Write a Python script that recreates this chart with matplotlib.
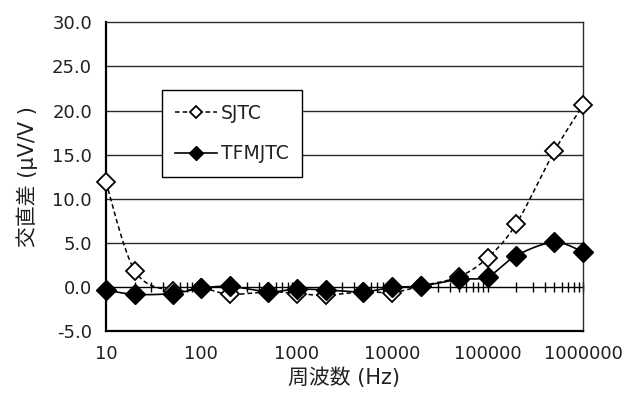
import numpy as np
import matplotlib
matplotlib.use("Agg")
import matplotlib.pyplot as plt
from matplotlib.lines import Line2D

plt.rcParams['font.family'] = ['DejaVu Sans', 'Noto Sans CJK JP']

freq = [10, 20, 50, 100, 200, 500, 1000, 2000, 5000, 10000, 20000,
        50000, 100000, 200000, 500000, 1000000]
sjtc = [11.9, 1.9, -0.4, -0.1, -0.8, -0.5, -0.7, -0.9, -0.5, -0.6, 0.15,
        1.2, 3.35, 7.2, 15.4, 20.6]
tfmjtc = [-0.3, -0.8, -0.7, -0.1, 0.1, -0.5, -0.2, -0.3, -0.5, 0.0, 0.15,
          0.9, 1.2, 3.6, 5.1, 4.0]
series_names = ["SJTC", "TFMJTC"]
xticks = [10, 100, 1000, 10000, 100000, 1000000]
xtick_labels = ["10", "100", "1000", "10000", "100000", "1000000"]
yticks = [-5, 0, 5, 10, 15, 20, 25, 30]
ytick_labels = ["-5.0", "0.0", "5.0", "10.0", "15.0", "20.0", "25.0", "30.0"]
xlabel = "周波数 (Hz)"
ylabel = "交直差 (µV/V )"


def smooth(xs, ys, n=20):
    # Excel-like smoothed line: Catmull-Rom in screen-like (log x, y) space
    u = (np.log10(xs) - 1) / 5 * 477.0
    v = np.asarray(ys, float) * 8.83
    P = np.column_stack([u, v])
    P = np.vstack([P[0], P, P[-1]])
    out = []
    t = np.linspace(0, 1, n)[:, None]
    for i in range(1, len(P) - 2):
        p0, p1, p2, p3 = P[i - 1], P[i], P[i + 1], P[i + 2]
        c1 = p1 + (p2 - p0) / 6
        c2 = p2 - (p3 - p1) / 6
        seg = ((1 - t) ** 3) * p1 + 3 * ((1 - t) ** 2) * t * c1 + 3 * (1 - t) * t ** 2 * c2 + t ** 3 * p2
        out.append(seg if i == 1 else seg[1:])
    S = np.vstack(out)
    return 10 ** (S[:, 0] / 477.0 * 5 + 1), S[:, 1] / 8.83


fig = plt.figure(figsize=(6.38, 3.99), dpi=100)
ax = fig.add_axes([0.1661, 0.1692, 0.7477, 0.7749])
ax.set_xscale('log')
ax.set_xlim(10, 1000000)
ax.set_ylim(-5, 30)

gc = '#2a2a2a'
tc = '#231f20'
for yv in yticks[2:-1]:
    ax.axhline(yv, color=gc, lw=1.0, zorder=1)

# zero axis line with minor ticks
sec = ax.secondary_xaxis(5 / 35)
sec.spines['bottom'].set_color('black')
sec.spines['bottom'].set_linewidth(1.0)
sec.set_xticks(xticks)
sec.tick_params(which='both', direction='inout', length=7, width=1.0,
                labelbottom=False, color='black')
sec.xaxis.set_minor_locator(matplotlib.ticker.LogLocator(base=10, subs=np.arange(2, 10)))
sec.xaxis.set_minor_formatter(matplotlib.ticker.NullFormatter())

sx, sy = smooth(freq, sjtc)
tx, ty = smooth(freq, tfmjtc)
ax.plot(sx, sy, color='black', lw=1.1, ls=(0, (3, 2)), zorder=3)
ax.plot(tx, ty, color='black', lw=1.2, zorder=3)
ax.plot(freq, sjtc, ls='none', marker='D', ms=9.5, mfc='white', mec='black',
        mew=1.3, zorder=4, clip_on=False)
ax.plot(freq, tfmjtc, ls='none', marker='D', ms=10, mfc='black', mec='black',
        zorder=5, clip_on=False)

ax.set_xticks(xticks)
ax.set_xticklabels(xtick_labels)
ax.xaxis.set_minor_locator(matplotlib.ticker.NullLocator())
ax.set_yticks(yticks)
ax.set_yticklabels(ytick_labels)
ax.tick_params(axis='both', length=0, labelsize=13, colors=tc, pad=10)
ax.tick_params(axis='x', pad=10)
for s in ax.spines.values():
    s.set_color(gc)
    s.set_linewidth(1.0)
ax.spines['left'].set_color('black')
ax.spines['left'].set_linewidth(1.6)
ax.spines['bottom'].set_color('black')
ax.spines['bottom'].set_linewidth(1.6)

ax.set_xlabel(xlabel, fontsize=15, labelpad=3, color=tc)
ax.set_ylabel(ylabel, fontsize=15, labelpad=10, color=tc)

handles = [
    Line2D([], [], color='black', lw=1.1, ls=(0, (3, 2)), marker='D', ms=6,
           mfc='white', mec='black', mew=1.3),
    Line2D([], [], color='black', lw=1.2, marker='D', ms=7, mfc='black', mec='black'),
]
leg = ax.legend(handles, series_names, loc='upper left',
                bbox_to_anchor=(0.117, 0.781), fancybox=False, frameon=True,
                edgecolor='black', framealpha=1, fontsize=13.5,
                handlelength=2.2, handletextpad=0.25, labelspacing=1.15,
                borderpad=0.72, borderaxespad=0)
leg.get_frame().set_linewidth(1.0)
for t in leg.get_texts():
    t.set_color(tc)

fig.savefig('out.png', dpi=100)
